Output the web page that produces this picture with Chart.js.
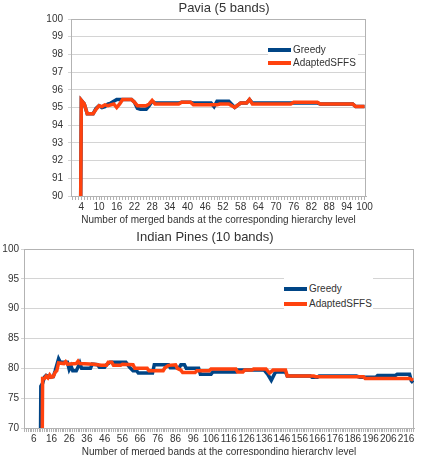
<!DOCTYPE html>
<html>
<head>
<meta charset="utf-8">
<script src="https://cdn.jsdelivr.net/npm/chart.js@4/dist/chart.umd.min.js"></script>
<style>
body { margin: 0; width: 421px; height: 455px; overflow: hidden; background: #fff; position: relative; font-family: "Liberation Sans", Arial, sans-serif; }
canvas { position: absolute; left: 0; }
.title { position: absolute; font-size: 13px; line-height: 15px; color: #333; white-space: nowrap; transform: translateX(-50%); }
.legend { position: absolute; background: #fff; font-size: 10px; color: #333; }
.item { position: relative; padding-left: 25px; white-space: nowrap; }
.item span { position: absolute; left: 0; width: 23px; height: 4px; }
</style>
</head>
<body>
<canvas id="paviaChart" width="421" height="228" style="top:0"></canvas>
<canvas id="pinesChart" width="421" height="233" style="top:228px"></canvas>

<div class="title" style="left:224px; top:0px">Pavia (5 bands)</div>
<div class="title" style="left:205px; top:229px">Indian Pines (10 bands)</div>

<div class="legend" style="left:268px; top:42px; width:90px; height:28px; padding-top:1px">
	<div class="item" style="height:13px; line-height:13px"><span style="top:5px; background:#004586"></span>Greedy</div>
	<div class="item" style="height:13px; line-height:13px"><span style="top:5px; background:#ff420e"></span>AdaptedSFFS</div>
</div>
<div class="legend" style="left:284px; top:277px; width:89px; height:34px; padding-top:5px; box-sizing:border-box">
	<div class="item" style="height:14.5px; line-height:14.5px"><span style="top:5px; background:#004586"></span>Greedy</div>
	<div class="item" style="height:14.5px; line-height:14.5px"><span style="top:5px; background:#ff420e"></span>AdaptedSFFS</div>
</div>

<script>
// Pavia (5 bands)
var paviaGreedyX = [3, 4, 5, 6, 8, 9, 10, 11, 12, 13, 14, 16, 18, 21, 22, 23, 24, 26, 27, 28, 29, 37, 38, 41, 42, 48, 49, 50, 54, 56, 58, 60, 61, 62, 84, 85, 96, 97, 100];
var paviaGreedy = [70, 95.4, 95.2, 94.65, 94.65, 94.95, 95.1, 95.0, 95.05, 95.2, 95.25, 95.45, 95.45, 95.45, 95.3, 94.95, 94.9, 94.9, 95.1, 95.35, 95.25, 95.25, 95.3, 95.3, 95.25, 95.25, 95.05, 95.35, 95.35, 95.0, 95.25, 95.25, 95.45, 95.25, 95.25, 95.2, 95.2, 95.05, 95.05];
var paviaSffsX = [3, 4, 5, 6, 8, 9, 10, 11, 12, 13, 15, 16, 17, 18, 21, 22, 23, 26, 27, 28, 29, 37, 38, 41, 42, 50, 51, 54, 56, 58, 60, 61, 62, 75, 76, 84, 85, 96, 97, 100];
var paviaSffs = [70, 95.4, 95.2, 94.65, 94.65, 94.9, 95.1, 95.05, 95.15, 95.1, 95.2, 95.0, 95.2, 95.45, 95.45, 95.3, 95.1, 95.1, 95.2, 95.4, 95.2, 95.2, 95.3, 95.3, 95.15, 95.15, 95.2, 95.2, 95.0, 95.25, 95.25, 95.45, 95.2, 95.2, 95.3, 95.3, 95.2, 95.2, 95.05, 95.05];

// Indian Pines (10 bands)
var pinesGreedyX = [9, 10, 11, 12, 13, 15, 17, 18, 20, 21, 25, 26, 27, 28, 30, 31, 32, 33, 38, 39, 42, 43, 46, 47, 49, 58, 60, 62, 64, 65, 73, 74, 82, 83, 88, 89, 91, 92, 99, 100, 106, 107, 120, 121, 136, 138, 140, 142, 143, 148, 149, 162, 163, 166, 167, 188, 190, 199, 200, 210, 211, 218, 219, 220];
var pinesGreedy = [30, 77, 77.5, 78.5, 78.8, 78.5, 78.6, 79.5, 81.6, 81.0, 81.0, 79.8, 80.4, 79.6, 79.6, 80.2, 80.9, 80.0, 80.0, 80.7, 80.6, 80.2, 80.2, 80.6, 81.0, 81.0, 80.2, 79.6, 79.6, 79.2, 79.2, 80.6, 80.6, 80.1, 80.1, 80.6, 80.6, 80.0, 80.0, 79.0, 79.0, 79.4, 79.4, 79.7, 79.7, 79.0, 78.0, 79.2, 79.4, 79.4, 78.7, 78.7, 78.5, 78.5, 78.7, 78.7, 78.5, 78.5, 78.8, 78.8, 79.0, 79.0, 77.9, 77.6];
var pinesSffsX = [10, 11, 12, 13, 14, 15, 16, 17, 18, 19, 20, 23, 24, 25, 30, 31, 32, 40, 44, 47, 48, 50, 51, 55, 56, 62, 63, 70, 71, 79, 80, 82, 86, 87, 89, 90, 97, 98, 105, 106, 120, 121, 124, 125, 129, 130, 137, 139, 141, 148, 149, 164, 165, 192, 193, 218, 220];
var pinesSffs = [30, 78.3, 78.3, 78.7, 78.4, 78.9, 78.5, 78.6, 79.3, 79.6, 80.9, 80.8, 81.1, 80.7, 80.8, 81.2, 80.8, 80.7, 80.5, 80.5, 81.0, 81.0, 80.5, 80.5, 80.7, 80.6, 80.0, 80.0, 79.6, 79.6, 80.1, 80.5, 80.6, 80.0, 79.7, 79.3, 79.3, 79.6, 79.6, 79.9, 79.9, 79.4, 79.4, 79.7, 79.7, 79.9, 79.9, 79.2, 79.7, 79.7, 78.7, 78.7, 78.6, 78.6, 78.3, 78.3, 78.0];

var axisTitle = "Number of merged bands at the corresponding hierarchy level";

function toPoints(xs, ys) {
	return xs.map(function (x, i) { return { x: x, y: ys[i] }; });
}

// box round the plot area
var framePlugin = {
	id: "frame",
	beforeDatasetsDraw: function (chart) {
		var a = chart.chartArea;
		var ctx = chart.ctx;
		ctx.save();
		ctx.strokeStyle = "#b3b3b3";
		ctx.lineWidth = 1;
		ctx.strokeRect(Math.round(a.left) + 0.5, Math.round(a.top) + 0.5, Math.round(a.right - a.left) - 1, Math.round(a.bottom - a.top));
		ctx.restore();
	}
};

function makeChart(id, s) {
	return new Chart(document.getElementById(id), {
		type: "line",
		data: {
			datasets: [
				{
					label: "Greedy",
					data: toPoints(s.greedyX, s.greedy),
					borderColor: "#004586",
					borderWidth: 3.5,
					pointRadius: 0,
					tension: 0,
					order: 2
				},
				{
					label: "AdaptedSFFS",
					data: toPoints(s.sffsX, s.sffs),
					borderColor: "#ff420e",
					borderWidth: 3.5,
					pointRadius: 0,
					tension: 0,
					order: 1
				}
			]
		},
		options: {
			responsive: false,
			animation: false,
			devicePixelRatio: 1,
			layout: { padding: { top: s.padTop, right: s.padRight, left: 0, bottom: 0 } },
			plugins: { legend: { display: false }, tooltip: { enabled: false } },
			scales: {
				x: {
					type: "linear",
					min: 0.5,
					max: s.xMax + 0.5,
					afterBuildTicks: function (scale) {
						var t = [];
						for (var v = 1; v <= s.xMax; v++) t.push({ value: v });
						scale.ticks = t;
					},
					afterFit: function (scale) { scale.height = s.xHeight; },
					ticks: {
						autoSkip: false,
						maxRotation: 0,
						minRotation: 0,
						padding: 1,
						color: "#333",
						font: { family: "Liberation Sans", size: 10 },
						callback: function (v) { return (v - s.firstLabel) % s.labelStep === 0 ? String(v) : ""; }
					},
					grid: { drawOnChartArea: false, tickLength: 4, color: "#b3b3b3" },
					border: { color: "#b3b3b3" },
					title: {
						display: true,
						text: axisTitle,
						color: "#333",
						font: { family: "Liberation Sans", size: 10 },
						padding: { top: 0, bottom: s.titlePad }
					}
				},
				y: {
					min: s.yMin,
					max: s.yMax,
					afterFit: function (scale) { scale.width = s.yWidth; },
					ticks: {
						stepSize: s.yStep,
						padding: s.yPad,
						color: "#333",
						font: { family: "Liberation Sans", size: 10 }
					},
					grid: { color: "#d4d4d4", tickLength: 3 },
					border: { color: "#b3b3b3" }
				}
			}
		},
		plugins: [framePlugin]
	});
}

var paviaChart = makeChart("paviaChart", {
	greedyX: paviaGreedyX, greedy: paviaGreedy, sffsX: paviaSffsX, sffs: paviaSffs,
	xMax: 100, firstLabel: 4, labelStep: 6,
	yMin: 90, yMax: 100, yStep: 1,
	padTop: 19, padRight: 55, yWidth: 71, yPad: 5, xHeight: 32, titlePad: 2
});

var pinesChart = makeChart("pinesChart", {
	greedyX: pinesGreedyX, greedy: pinesGreedy, sffsX: pinesSffsX, sffs: pinesSffs,
	xMax: 220, firstLabel: 6, labelStep: 10,
	yMin: 70, yMax: 100, yStep: 5,
	padTop: 21, padRight: 7, yWidth: 24, yPad: 2, xHeight: 33, titlePad: 3
});
</script>
</body>
</html>
